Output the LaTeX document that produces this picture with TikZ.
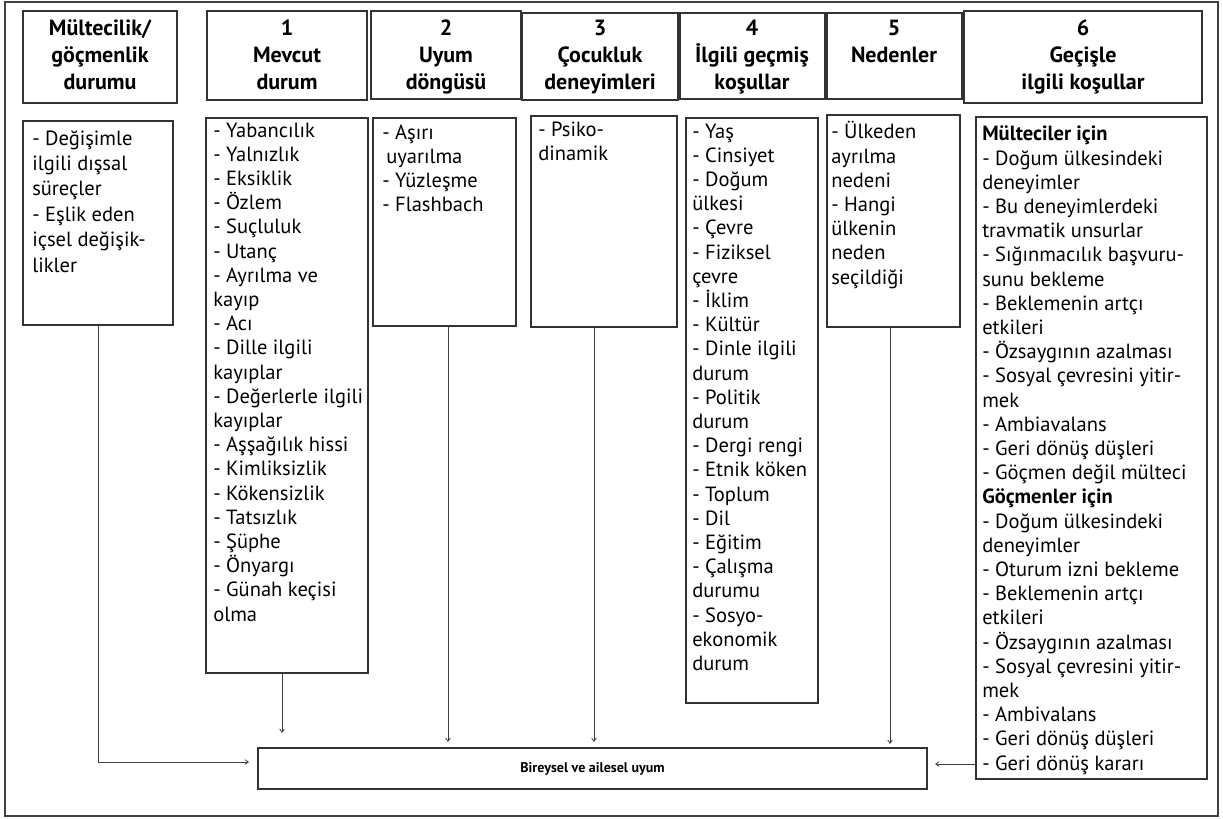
\documentclass[tikz,border=0pt]{standalone}
\usepackage{fontspec}
\setmainfont{PT Sans}
\usepackage{tikz}
\usetikzlibrary{calc,positioning}
\usetikzlibrary{fit}
\usetikzlibrary{arrows.meta}
\tikzset{>={Straight Barb[width=3.5pt,length=2.5pt]}}

\begin{document}
\begin{tikzpicture}[x=0.75pt,y=-0.75pt]
        % multi-line nodes sit on the baseline of their last line
        \tikzstyle{hbox} = [draw=black!80, line width=0.9pt, inner sep=0pt]
        \tikzstyle{lbox} = [draw=black!80, line width=0.9pt, inner sep=0pt]
        \tikzstyle{htext} = [inner sep=0pt, align=center, anchor=base, font=\fontsize{16.5}{19.9}\selectfont\bfseries]
        \tikzstyle{ltext} = [inner sep=0pt, align=left, anchor=base west, font=\fontsize{15.4}{18.15}\selectfont]
        \tikzstyle{arr} = [->, line width=0.6pt, draw=black!75]

        \useasboundingbox (0,0) rectangle (1223,818);
        \node[draw=black!75, line width=1.4pt, inner sep=0pt, fit={(5,2) (1218,816)}] (frame) {};

        % header row
        \node[hbox, fit={(23,11) (177,103)}] (h0) {};
        \node[hbox, fit={(207,11) (367,100)}] (h1) {};
        \node[hbox, fit={(371,11) (521,99)}] (h2) {};
        \node[hbox, fit={(522,13) (678,100)}] (h3) {};
        \node[hbox, fit={(680,13) (825,99)}] (h4) {};
        \node[hbox, fit={(827,13) (962,99)}] (h5) {};
        \node[hbox, fit={(964,11) (1202,103)}] (h6) {};

        \node[htext] (h0t) at (100,89) {Mültecilik/\\göçmenlik\\durumu};
        \node[htext] (h1t) at (287,89) {1\\Mevcut\\durum};
        \node[htext] (h2t) at (446,89) {2\\Uyum\\döngüsü};
        \node[htext] (h3t) at (600,89) {3\\Çocukluk\\deneyimleri};
        \node[htext] (h4t) at (752,89) {4\\İlgili geçmiş\\koşullar};
        \node[htext] (h5t) at (894,62.5) {5\\Nedenler};
        \node[htext] (h6t) at (1083,89) {6\\Geçişle\\ilgili koşullar};

        % lists
        \node[lbox, fit={(23,121) (173,325)}] (l0) {};
        \node[lbox, fit={(206,118) (368,673)}] (l1) {};
        \node[lbox, fit={(373,118) (516,326)}] (l2) {};
        \node[lbox, fit={(531,116) (677,327)}] (l3) {};
        \node[lbox, fit={(686,118) (818,703)}] (l4) {};
        \node[lbox, fit={(827,115) (960,327)}] (l5) {};
        \node[lbox, fit={(976,117) (1207,779)}] (l6) {};

        \node[ltext, font=\fontsize{15.4}{19.05}\selectfont] (l0t) at (32,272) {- Değişimle\\ilgili dışsal\\süreçler\\- Eşlik eden\\içsel değişik-\\likler};
        \node[ltext] (l1t) at (213,621) {- Yabancılık\\- Yalnızlık\\- Eksiklik\\- Özlem\\- Suçluluk\\- Utanç\\- Ayrılma ve\\kayıp\\- Acı\\- Dille ilgili\\kayıplar\\- Değerlerle ilgili\\kayıplar\\- Aşşağılık hissi\\- Kimliksizlik\\- Kökensizlik\\- Tatsızlık\\- Şüphe\\- Önyargı\\- Günah keçisi\\olma};
        \node[ltext] (l2t) at (382,211.6) {- Aşırı\\\hspace{3pt}uyarılma\\- Yüzleşme\\- Flashbach};
        \node[ltext] (l3t) at (538,160.2) {- Psiko-\\dinamik};
        \node[ltext] (l4t) at (692,670.4) {- Yaş\\- Cinsiyet\\- Doğum\\ülkesi\\- Çevre\\- Fiziksel\\çevre\\- İklim\\- Kültür\\- Dinle ilgili\\durum\\- Politik\\durum\\- Dergi rengi\\- Etnik köken\\- Toplum\\- Dil\\- Eğitim\\- Çalışma\\durumu\\- Sosyo-\\ekonomik\\durum};
        \node[ltext] (l5t) at (831,284) {- Ülkeden\\ayrılma\\nedeni\\- Hangi\\ülkenin\\neden\\seçildiği};
        \node[ltext] (l6t) at (982,770) {\textbf{Mülteciler için}\\- Doğum ülkesindeki\\deneyimler\\- Bu deneyimlerdeki\\travmatik unsurlar\\- Sığınmacılık başvuru-\\sunu bekleme\\- Beklemenin artçı\\etkileri\\- Özsaygının azalması\\- Sosyal çevresini yitir-\\mek\\- Ambiavalans\\- Geri dönüş düşleri\\- Göçmen değil mülteci\\\textbf{Göçmenler için}\\- Doğum ülkesindeki\\deneyimler\\- Oturum izni bekleme\\- Beklemenin artçı\\etkileri\\- Özsaygının azalması\\- Sosyal çevresini yitir-\\mek\\- Ambivalans\\- Geri dönüş düşleri\\- Geri dönüş kararı};

        % target
        \node[lbox, fit={(258,748) (927,789)}] (uyum) {};
        \node[font=\fontsize{10.5}{12}\selectfont\bfseries] (uyumt) at (uyum.center) {Bireysel ve ailesel uyum};

        \coordinate (e0) at (249,762);
        \coordinate (e1) at (282,733);
        \coordinate (e2) at (448,742);
        \coordinate (e3) at (594,742);
        \coordinate (e5) at (890,744);
        \coordinate (e6) at (935,764);

        \draw[arr] (l0.south) |- (e0);
        \draw[arr] (l1.south -| e1) -- (e1);
        \draw[arr] (l2.south -| e2) -- (e2);
        \draw[arr] (l3.south -| e3) -- (e3);
        \draw[arr] (l5.south -| e5) -- (e5);
        \draw[arr] (l6.west |- e6) -- (e6);
\end{tikzpicture}
\end{document}
